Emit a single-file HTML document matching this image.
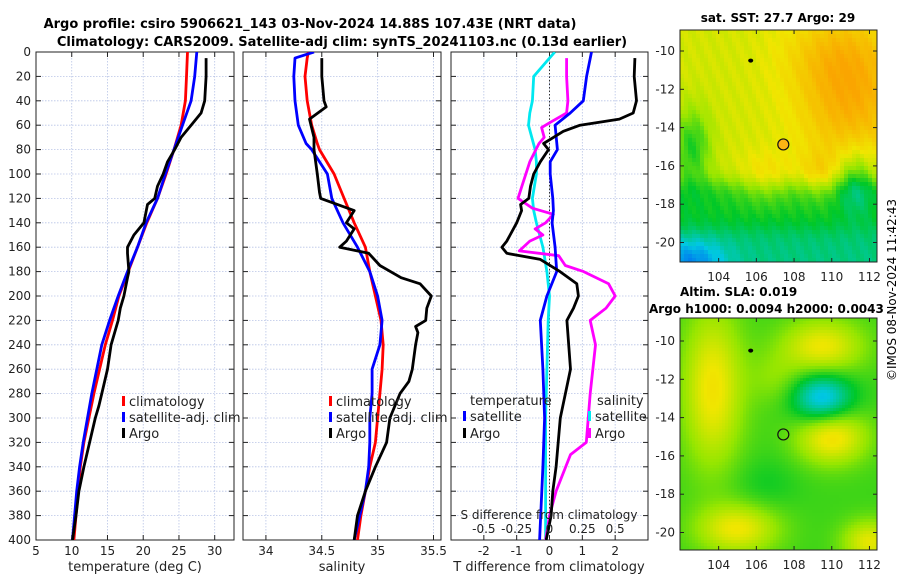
<!DOCTYPE html>
<html><head><meta charset="utf-8"><style>
body{margin:0;background:#fff;width:900px;height:580px;overflow:hidden;font-family:"Liberation Sans","DejaVu Sans",sans-serif}
svg text{font-family:"DejaVu Sans","Liberation Sans",sans-serif}
</style></head><body>
<svg id="s" width="900" height="580" xmlns="http://www.w3.org/2000/svg">
<text x="310" y="28" text-anchor="middle" font-size="13" font-weight="bold">Argo profile: csiro 5906621_143 03-Nov-2024 14.88S 107.43E (NRT data)</text>
<text x="342" y="46" text-anchor="middle" font-size="13" font-weight="bold">Climatology: CARS2009. Satellite-adj clim: synTS_20241103.nc (0.13d earlier)</text>
<text x="778" y="22" text-anchor="middle" font-size="12" font-weight="bold">sat. SST: 27.7 Argo: 29</text>
<text x="680" y="296" font-size="12" font-weight="bold">Altim. SLA: 0.019</text>
<text x="649" y="313" font-size="12" font-weight="bold">Argo h1000: 0.0094 h2000: 0.0043</text>
<text transform="translate(896,290) rotate(-90)" text-anchor="middle" font-size="12">©IMOS 08-Nov-2024 11:42:43</text>
<g id="g"></g>
</svg>
<script>
// ---- data ----
const depthT = [0,20,40,60,80,100,120,140,160,180,200,220,240,260,280,300,320,340,360,380,400];
const tClim = [26.2,26.05,25.9,25.3,24.3,23.2,22,20.5,19.2,17.9,16.6,15.7,14.7,13.9,13.1,12.4,11.7,11.2,10.9,10.6,10.3];
const tSat = [27.5,27.2,26.7,25.5,24.3,23.1,22,20.4,19.2,17.8,16.5,15.3,14.2,13.5,12.8,12.2,11.6,11.1,10.7,10.4,10.1];
const depthArgo = [5,20,40,50,60,70,80,90,100,110,120,125,140,150,160,165,180,185,200,210,220,240,260,280,290,300,320,340,360,380,400];
const tArgo = [28.8,28.8,28.6,28.1,26.7,25.3,24.4,23.4,22.8,22,21.6,20.6,20.1,18.7,17.8,17.8,18,17.8,17.3,16.8,16.5,15.5,15,14.2,13.8,13.3,12.5,11.7,11,10.6,10.1];
const depthS = [0,5,20,40,60,75,80,100,120,140,160,180,200,220,240,260,280,300,320,340,360,380,400];
const sClim = [34.38,34.37,34.35,34.37,34.41,34.46,34.48,34.61,34.70,34.79,34.89,34.93,34.98,35.03,35.05,35.04,35.02,35.0,34.98,34.93,34.89,34.85,34.82];
const sSat = [34.43,34.26,34.25,34.26,34.29,34.36,34.41,34.55,34.59,34.69,34.82,34.93,35.0,35.04,35.02,34.95,34.95,34.93,34.93,34.92,34.89,34.84,34.79];
const depthSA = [5,20,40,45,55,70,80,100,115,120,130,140,145,155,160,165,175,185,190,200,210,220,225,230,240,260,270,280,300,320,340,360,380,400];
const sArgo = [34.5,34.5,34.52,34.54,34.39,34.43,34.43,34.46,34.48,34.49,34.79,34.72,34.79,34.72,34.66,34.92,35.02,35.21,35.38,35.48,35.44,35.43,35.34,35.36,35.34,35.31,35.28,35.2,35.11,35.08,34.98,34.89,34.82,34.79];
const depthD1 = [0,20,40,50,60,80,90,100,120,130,140,160,180,200,220,260,300,340,400];
const dTSat = [1.28,1.13,1.03,0.63,0.17,0.24,0.02,0.02,0.1,0.12,0.08,0.17,0.22,-0.08,-0.28,-0.2,-0.15,-0.2,-0.3];
const dSSat = [0.04,-0.12,-0.13,-0.15,-0.16,-0.11,-0.1,-0.1,-0.13,-0.12,-0.1,-0.05,-0.02,0,-0.01,-0.02,-0.03,-0.03,-0.03];
const depthD2 = [5,20,40,50,58,62,70,75,90,110,120,128,133,140,145,150,155,163,167,175,180,190,200,210,220,240,280,320,330,360,380,400];
const dSArgo = [0.13,0.13,0.14,0.13,0,-0.06,-0.04,-0.08,-0.15,-0.21,-0.24,-0.13,0.03,-0.03,-0.11,-0.05,-0.15,-0.23,0.07,0.12,0.26,0.45,0.5,0.43,0.31,0.35,0.31,0.28,0.16,0.05,0,-0.03];
const depthD3 = [5,20,40,50,55,60,65,70,75,80,90,100,110,120,125,130,140,150,155,160,165,170,180,190,200,210,220,260,300,340,360,380,400];
const dTArgo = [2.6,2.58,2.65,2.55,2.13,0.93,0.42,0.12,-0.18,-0.03,-0.28,-0.48,-0.58,-0.63,-0.88,-0.85,-1.0,-1.2,-1.3,-1.45,-1.3,-0.28,0.32,0.83,0.88,0.73,0.53,0.64,0.33,0.2,0.1,0.05,-0.1];
const depthTicks = [0,20,40,60,80,100,120,140,160,180,200,220,240,260,280,300,320,340,360,380,400];
const tTicks = [5,10,15,20,25,30];
const sTicks = [34,34.5,35,35.5];
const dTTicks = [-2,-1,0,1,2];
const dSTicks = [-0.5,-0.25,0,0.25,0.5];
const dSTickLabels = ['-0.5','-0.25','0','0.25','0.5'];
const latTicks = [-10,-12,-14,-16,-18,-20];
const lonTicks = [104,106,108,110,112];

const NS="http://www.w3.org/2000/svg";
const G=document.getElementById('g');
function el(t,a,p){const e=document.createElementNS(NS,t);for(const k in a)e.setAttribute(k,a[k]);(p||G).appendChild(e);return e;}
const Y0=52,Y1=540;
const yD=d=>Y0+(d/400)*(Y1-Y0);
const panels=[
 {x0:36,x1:234,min:5,max:32.7,name:'temperature'},
 {x0:243,x1:441,min:33.795,max:35.567,name:'salinity'},
 {x0:451,x1:648,min:-3,max:3,name:'difference'}];
function sx(p,v){return p.x0+(v-p.min)/(p.max-p.min)*(p.x1-p.x0);}
const grid='#b8c4e6';
panels.forEach((p,i)=>{
  const pg=el('g',{});
  
  
  el('clipPath',{id:'c'+i},pg);
  el('rect',{x:p.x0,y:Y0,width:p.x1-p.x0,height:Y1-Y0},document.getElementById('c'+i));
  depthTicks.forEach(d=>{
    if(d>0&&d<400) el('line',{x1:p.x0,x2:p.x1,y1:yD(d),y2:yD(d),stroke:grid,'stroke-width':0.8,'stroke-dasharray':'1.5,1.5'},pg);
    el('line',{x1:p.x0,x2:p.x0+5,y1:yD(d),y2:yD(d),stroke:'#222'},pg);
    el('line',{x1:p.x1-5,x2:p.x1,y1:yD(d),y2:yD(d),stroke:'#222'},pg);
    if(i==0){const t=el('text',{x:p.x0-5,y:yD(d)+4,'text-anchor':'end','font-size':12,fill:'#222'},pg);t.textContent=d;
      }
  });
  const ticks=i==0?tTicks:i==1?sTicks:dTTicks;
  ticks.forEach(v=>{const x=sx(p,v);
    el('line',{x1:x,x2:x,y1:Y0,y2:Y1,stroke:grid,'stroke-width':0.8,'stroke-dasharray':'1.5,1.5'},pg);
    el('line',{x1:x,x2:x,y1:Y1-5,y2:Y1,stroke:'#222'},pg);el('line',{x1:x,x2:x,y1:Y0,y2:Y0+5,stroke:'#222'},pg);
    const t=el('text',{x:x,y:555,'text-anchor':'middle','font-size':12,fill:'#222'},pg);t.textContent=v;
    });
  el('rect',{x:p.x0,y:Y0,width:p.x1-p.x0,height:Y1-Y0,fill:'none',stroke:'#222','stroke-width':1},pg);
  p.g=pg;
});
function line(p,i,depths,vals,color,name,scale){
  const pts=depths.map((d,k)=>sx(p,vals[k]*(scale||1)).toFixed(1)+','+yD(d).toFixed(1)).join(' ');
  const l=el('polyline',{points:pts,fill:'none',stroke:color,'stroke-width':2.8,'stroke-linejoin':'round','clip-path':'url(#c'+i+')'},p.g);
  
  
}
const P=panels;
el('line',{x1:sx(P[2],0),x2:sx(P[2],0),y1:Y0,y2:Y1,stroke:'#333','stroke-dasharray':'1.5,2'},P[2].g);
line(P[0],0,depthT,tClim,'#f00','temperature-climatology-line');
line(P[0],0,depthT,tSat,'#00f','temperature-satellite-line');
line(P[0],0,depthArgo,tArgo,'#000','temperature-argo-line');
line(P[1],1,depthS,sClim,'#f00','salinity-climatology-line');
line(P[1],1,depthS,sSat,'#00f','salinity-satellite-line');
line(P[1],1,depthSA,sArgo,'#000','salinity-argo-line');
line(P[2],2,depthD1,dSSat,'#00e8f0','salinity-satellite-diff-line',4);
line(P[2],2,depthD2,dSArgo,'#f0f','salinity-argo-diff-line',4);
line(P[2],2,depthD1,dTSat,'#00f','temperature-satellite-diff-line');
line(P[2],2,depthD3,dTArgo,'#000','temperature-argo-diff-line');
dSTicks.forEach((v,k)=>{const x=sx(P[2],v*4);const t=el('text',{x:x,y:533,'text-anchor':'middle','font-size':12,fill:'#222'},P[2].g);t.textContent=dSTickLabels[k];
  });
function txt(x,y,s,name,anchor,size){const t=el('text',{x:x,y:y,'font-size':size||12,fill:'#222','text-anchor':anchor||'start'});t.textContent=s;
  return t;}
txt(549,519,'S difference from climatology','salinity-diff-axis-title','middle',12);
txt(135,571,'temperature (deg C)','x-axis-title-temperature','middle',13);
txt(342,571,'salinity','x-axis-title-salinity','middle',13);
txt(549,571,'T difference from climatology','x-axis-title-difference','middle',13);
function leg(x,y,c,s,name){el('rect',{x:x,y:y-10,width:3,height:10,fill:c});txt(x+7,y,s,name,'start',13);}
leg(122,406,'#f00','climatology','legend-climatology');
leg(122,422,'#00f','satellite-adj. clim','legend-satellite');
leg(122,438,'#000','Argo','legend-argo');
leg(329,406,'#f00','climatology','legend-climatology-2');
leg(329,422,'#00f','satellite-adj. clim','legend-satellite-2');
leg(329,438,'#000','Argo','legend-argo-2');
txt(470,405,'temperature','legend-temperature-header','start',13);
leg(463,421,'#00f','satellite','legend-t-satellite');
leg(463,438,'#000','Argo','legend-t-argo');
txt(597,405,'salinity','legend-salinity-header','start',13);
leg(588,421,'#00e8f0','satellite','legend-s-satellite');
leg(588,438,'#f0f','Argo','legend-s-argo');
// ---- maps ----
const stops=[[0.15,[0,40,200]],[0.25,[0,110,240]],[0.35,[0,200,225]],[0.48,[0,200,40]],[0.58,[150,230,0]],[0.67,[240,230,0]],[0.8,[250,165,0]]];
function cmap(v){if(v<=stops[0][0])return stops[0][1];for(let k=1;k<stops.length;k++){if(v<=stops[k][0]){const a=stops[k-1],b=stops[k],t=(v-a[0])/(b[0]-a[0]);return a[1].map((c,j)=>Math.round(c+(b[1][j]-c)*t));}}return stops[stops.length-1][1];}
function gb(lon,lat,cx,cy,sx_,sy,a){return a*Math.exp(-((lon-cx)**2/(2*sx_*sx_)+(lat-cy)**2/(2*sy*sy)));}
function sst(lon,lat){let v=0.64;
  v+=gb(lon,lat,111,-12.5,2,2.5,0.14);v+=gb(lon,lat,110,-10,2,1.5,0.06);
  v-=gb(lon,lat,102.6,-15,0.7,1.4,0.14);
  v-=0.15/(1+Math.exp((lat+16.8)*3));
  v-=0.07/(1+Math.exp((lat+19.3)*3));
  v-=gb(lon,lat,102.5,-21,1.3,0.8,0.14);
  v-=gb(lon,lat,111.3,-16.8,0.7,1.2,0.12);
  v+=gb(lon,lat,106.5,-16.7,1,0.9,0.07);v+=gb(lon,lat,109.3,-16.5,0.7,0.8,0.07);
  v+=Math.sin(lon*7.3+lat*3.1)*0.01;return v;}
function sla(lon,lat){let v=0.52;
  v+=gb(lon,lat,103.7,-12.5,1.1,2.8,0.16);v+=gb(lon,lat,109.5,-10.3,1.5,1,0.15);
  v+=gb(lon,lat,110,-15,1.3,1,0.17);v+=gb(lon,lat,105,-19.8,1.5,0.9,0.15);v+=gb(lon,lat,112,-20.5,1,0.8,0.14);
  v+=gb(lon,lat,107,-12,1,1,0.05);
  v-=gb(lon,lat,109.5,-13,1.1,0.9,0.2);v-=gb(lon,lat,106.5,-17.5,1.2,1,0.03);
  return v;}
const MX0=680,MX1=877,LON0=101.95,LON1=112.4;
function drawMap(y0,y1,latTopPx,f,block,name,filled){
  const mg=el('g',{});
  const lat=py=>-10-(py-latTopPx)/19.15;const lon=px=>LON0+(px-MX0)/(MX1-MX0)*(LON1-LON0);
  for(let py=y0;py<y1;py+=block)for(let px=MX0;px<MX1;px+=block){const c=cmap(f(lon(px+block/2),lat(py+block/2)));
    el('rect',{x:px,y:py,width:Math.min(block,MX1-px),height:Math.min(block,y1-py),fill:'rgb('+c+')'},mg);}
  el('rect',{x:MX0,y:y0,width:MX1-MX0,height:y1-y0,fill:'none',stroke:'#222'},mg);
  const yL=la=>latTopPx+(-10-la)*19.15;const xL=lo=>MX0+(lo-LON0)/(LON1-LON0)*(MX1-MX0);
  latTicks.forEach(la=>{const y=yL(la);el('line',{x1:MX0,x2:MX0+4,y1:y,y2:y,stroke:'#222'},mg);el('line',{x1:MX1-4,x2:MX1,y1:y,y2:y,stroke:'#222'},mg);
    const t=el('text',{x:MX0-5,y:y+4,'text-anchor':'end','font-size':12,fill:'#222'},mg);t.textContent=la;
    });
  lonTicks.forEach(lo=>{const x=xL(lo);el('line',{x1:x,x2:x,y1:y1-4,y2:y1,stroke:'#222'},mg);el('line',{x1:x,x2:x,y1:y0,y2:y0+4,stroke:'#222'},mg);
    const t=el('text',{x:x,y:y1+19,'text-anchor':'middle','font-size':12,fill:'#222'},mg);t.textContent=lo;
    });
  el('ellipse',{cx:xL(105.7),cy:yL(-10.5),rx:2.5,ry:2,fill:'#000'},mg);
  el('circle',{cx:xL(107.43),cy:yL(-14.88),r:5.5,fill:filled?'rgb(250,180,20)':'none',stroke:'#111','stroke-width':1.2},mg);
}
drawMap(30,262,51,sst,4,'sst-map',true);
drawMap(318,550,341,sla,3,'sla-map',false);
</script>
</body></html>
